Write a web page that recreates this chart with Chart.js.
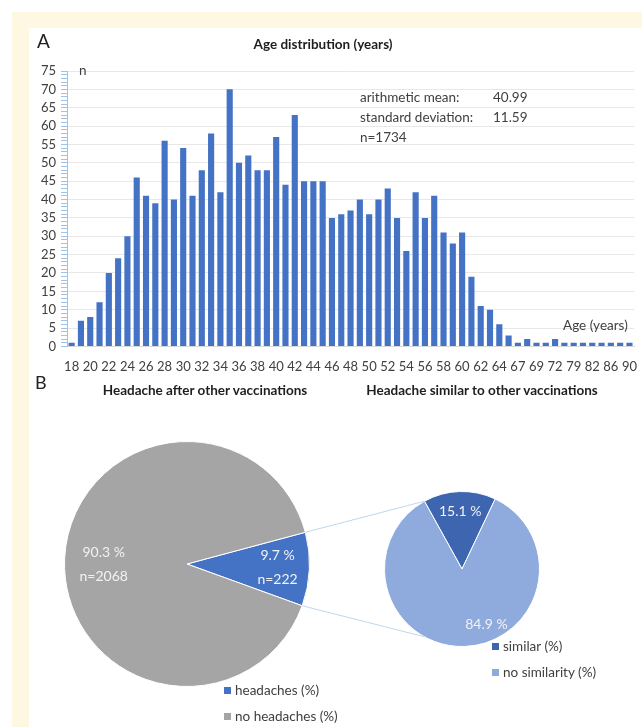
<!DOCTYPE html>
<html>
<head>
<meta charset="utf-8">
<script src="https://cdn.jsdelivr.net/npm/chart.js@4/dist/chart.umd.min.js"></script>
<style>
  body { margin: 0; width: 642px; height: 727px; position: relative; overflow: hidden; background: #fff; font-family: Lato, "Open Sans", sans-serif; color: #404040; }
  .abs { position: absolute; white-space: nowrap; }
  .txt { z-index: 2; }
  #frame { position: absolute; left: 12px; top: 12px; right: 0; bottom: 0; background: #fef8e3; }
  #panel { position: absolute; left: 29px; top: 28px; right: 0; bottom: 0; background: #fff; }
  .t13 { font-size: 13.5px; line-height: 16px; }
  .bold { font-weight: bold; color: #1e1e1e; }
  .sq { display: inline-block; width: 7px; height: 7px; margin-right: 4px; vertical-align: 1px; }
</style>
</head>
<body>
<div id="frame"></div>
<div id="panel"></div>

<div class="abs" style="left:29px;top:28px;width:613px;height:358px"><canvas id="ageChart"></canvas></div>
<div class="abs" style="left:64px;top:441px;width:246px;height:246px"><canvas id="headacheChart"></canvas></div>
<div class="abs" style="left:300px;top:480px;width:324px;height:180px"><canvas id="similarChart"></canvas></div>

<div class="abs txt" style="left:37px;top:30px;font-size:19px;line-height:22px;color:#222">A</div>
<div class="abs txt t13 bold" style="left:223px;top:36px;width:200px;text-align:center">Age distribution (years)</div>
<div class="abs txt t13" style="left:79px;top:62px">n</div>
<div class="abs txt t13" style="left:360px;top:89px">arithmetic mean:</div>
<div class="abs txt t13" style="left:493px;top:89px">40.99</div>
<div class="abs txt t13" style="left:360px;top:109px">standard deviation:</div>
<div class="abs txt t13" style="left:493px;top:109px">11.59</div>
<div class="abs txt t13" style="left:360px;top:129px">n=1734</div>
<div class="abs txt t13" style="left:563px;top:317px">Age (years)</div>

<div class="abs txt" style="left:35px;top:372px;font-size:18px;line-height:20px;color:#222">B</div>
<div class="abs txt t13 bold" style="left:55px;top:382px;width:300px;text-align:center">Headache after other vaccinations</div>
<div class="abs txt t13 bold" style="left:332px;top:382px;width:300px;text-align:center">Headache similar to other vaccinations</div>

<div class="abs txt t13" style="left:224px;top:682px"><span class="sq" style="background:#4472c4"></span>headaches (%)</div>
<div class="abs txt t13" style="left:224px;top:708px"><span class="sq" style="background:#a5a5a5"></span>no headaches (%)</div>
<div class="abs txt t13" style="left:492px;top:638px"><span class="sq" style="background:#3d65b0"></span>similar (%)</div>
<div class="abs txt t13" style="left:492px;top:664px"><span class="sq" style="background:#8faadc"></span>no similarity (%)</div>

<script>
// Age histogram (n per year of age)
const ages = ['18','19','20','21','22','23','24','25','26','27','28','29','30','31','32','33','34','35','36','37',
    '38','39','40','41','42','43','44','45','46','47','48','49','50','51','52','53','54','55','56','57',
    '58','59','60','61','62','63','64','66','67','68','69','71','72','75','79','81','82','84','86','88','90'];
const ageCounts = [1,7,8,12,20,24,30,46,41,39,56,40,54,41,48,58,42,70,50,52,
    48,48,57,44,63,45,45,45,35,36,37,40,36,40,43,35,26,42,35,41,
    31,28,31,19,11,10,6,3,1,2,1,1,2,1,1,1,1,1,1,1,1];

// Pie data
const headacheLabels = ['headaches (%)', 'no headaches (%)'];
const headacheValues = [9.7, 90.3];
const headacheTexts = ['9.7 %\nn=222', '90.3 %\nn=2068'];
const similarLabels = ['similar (%)', 'no similarity (%)'];
const similarValues = [15.1, 84.9];
const similarTexts = ['15.1 %', '84.9 %'];

const tickFont = { family: 'Lato', size: 13 };

new Chart(document.getElementById('ageChart'), {
    type: 'bar',
    data: {
        labels: ages,
        datasets: [{
            data: ageCounts,
            backgroundColor: '#4472c4',
            barPercentage: 0.66,
            categoryPercentage: 1
        }]
    },
    options: {
        responsive: true,
        maintainAspectRatio: false,
        animation: false,
        layout: { padding: { top: 43, right: 0, bottom: 6, left: 0 } },
        plugins: { legend: { display: false }, tooltip: { enabled: false } },
        scales: {
            x: {
                grid: { display: false },
                border: { color: '#d9d9d9' },
                ticks: {
                    autoSkip: false,
                    maxRotation: 0,
                    padding: 5,
                    font: tickFont,
                    color: '#404040',
                    callback: function (v, i) { return i % 2 === 0 ? this.getLabelForValue(v) : ''; }
                }
            },
            y: {
                weight: 1,
                min: 0,
                max: 75,
                afterFit: s => { s.width = 30; },
                border: { display: false },
                grid: { color: '#e8e8e8', drawTicks: false },
                ticks: { stepSize: 5, maxTicksLimit: 20, autoSkip: false, padding: 3, font: tickFont, color: '#404040' }
            },
            yMinor: {
                position: 'left',
                weight: 0,
                min: 0,
                max: 75,
                afterFit: s => { s.width = 8; },
                border: { color: '#9dc3e6' },
                grid: { drawOnChartArea: false, drawTicks: true, tickLength: 6, color: '#9dc3e6' },
                ticks: { display: false, stepSize: 1, maxTicksLimit: 100, autoSkip: false }
            }
        }
    }
});

// writes the slice labels inside the pie, from each arc's own angles
const sliceText = {
    id: 'sliceText',
    afterDatasetsDraw(chart, args, opts) {
        const ctx = chart.ctx;
        const arcs = chart.getDatasetMeta(0).data;
        ctx.save();
        ctx.font = '14px Lato';
        ctx.fillStyle = '#f2f2f2';
        ctx.textAlign = 'center';
        ctx.textBaseline = 'middle';
        arcs.forEach((arc, i) => {
            const mid = (arc.startAngle + arc.endAngle) / 2 + (opts.shifts[i] || 0) * Math.PI / 180;
            const r = arc.outerRadius * opts.factors[i];
            const lines = opts.texts[i].split('\n');
            const cx = arc.x + Math.cos(mid) * r;
            const cy = arc.y + Math.sin(mid) * r;
            lines.forEach((t, j) => {
                ctx.fillText(t, cx, cy + (j - (lines.length - 1) / 2) * 24);
            });
        });
        ctx.restore();
    }
};

const headacheChart = new Chart(document.getElementById('headacheChart'), {
    type: 'pie',
    data: {
        labels: headacheLabels,
        datasets: [{
            data: headacheValues,
            backgroundColor: ['#4472c4', '#a5a5a5'],
            borderColor: '#ffffff',
            borderWidth: 1
        }]
    },
    options: {
        responsive: true,
        maintainAspectRatio: false,
        animation: false,
        rotation: 75,
        plugins: {
            legend: { display: false },
            tooltip: { enabled: false },
            sliceText: { texts: headacheTexts, factors: [0.74, 0.68], shifts: [0, -3] }
        }
    },
    plugins: [sliceText]
});

// connector lines from the headache slice to the second pie
const connectors = {
    id: 'connectors',
    afterDraw(chart) {
        const big = headacheChart.getDatasetMeta(0).data[0];
        const small = chart.getDatasetMeta(0).data[0];
        const bigBox = headacheChart.canvas.getBoundingClientRect();
        const box = chart.canvas.getBoundingClientRect();
        const dx = bigBox.left - box.left, dy = bigBox.top - box.top;
        const a = small.startAngle;
        const ends = [
            [big.startAngle, small.x + Math.cos(a) * small.outerRadius, small.y + Math.sin(a) * small.outerRadius],
            [big.endAngle, small.x + Math.cos(a) * small.outerRadius, small.y - Math.sin(a) * small.outerRadius]
        ];
        const ctx = chart.ctx;
        ctx.save();
        ctx.strokeStyle = '#bdd7ee';
        ctx.lineWidth = 1;
        ends.forEach(([ang, x2, y2]) => {
            ctx.beginPath();
            ctx.moveTo(big.x + Math.cos(ang) * big.outerRadius + dx, big.y + Math.sin(ang) * big.outerRadius + dy);
            ctx.lineTo(x2, y2);
            ctx.stroke();
        });
        ctx.restore();
    }
};

new Chart(document.getElementById('similarChart'), {
    type: 'pie',
    data: {
        labels: similarLabels,
        datasets: [{
            data: similarValues,
            backgroundColor: ['#3d65b0', '#8faadc'],
            borderColor: '#ffffff',
            borderWidth: 1
        }]
    },
    options: {
        responsive: true,
        maintainAspectRatio: false,
        animation: false,
        rotation: -29,
        layout: { padding: { left: 84, right: 84, top: 11, bottom: 13 } },
        plugins: {
            legend: { display: false },
            tooltip: { enabled: false },
            sliceText: { texts: similarTexts, factors: [0.74, 0.78], shifts: [0, -22] }
        }
    },
    plugins: [sliceText, connectors]
});
</script>
</body>
</html>
